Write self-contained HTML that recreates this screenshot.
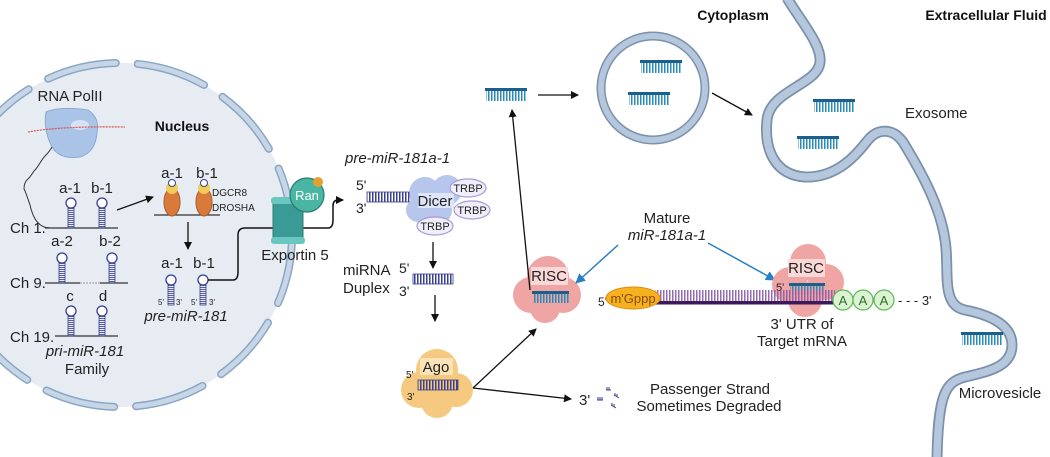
<!DOCTYPE html>
<html><head><meta charset="utf-8"><style>
html,body{margin:0;padding:0;background:#fff;}
svg{display:block;font-family:"Liberation Sans",sans-serif;}
</style></head><body>
<svg width="1050" height="457" viewBox="0 0 1050 457" xmlns="http://www.w3.org/2000/svg">
<defs>
<marker id="ah" markerWidth="8" markerHeight="8" refX="7" refY="4" orient="auto" markerUnits="userSpaceOnUse"><path d="M0,0 L8,4 L0,8 z" fill="#111"/></marker>
<marker id="ahb" markerWidth="10" markerHeight="10" refX="9" refY="5" orient="auto" markerUnits="userSpaceOnUse"><path d="M0,0 L10,5 L0,10 z" fill="#2a7fc8"/></marker>
<pattern id="teeth" width="3" height="10" patternUnits="userSpaceOnUse"><rect x="0" y="0" width="1.5" height="10" fill="#2a8bb8"/></pattern>
<pattern id="duplex" width="3" height="10" patternUnits="userSpaceOnUse"><rect x="0" y="0" width="1.5" height="10" fill="#3a3f8f"/></pattern>
<pattern id="stem" width="6" height="2" patternUnits="userSpaceOnUse"><rect x="0" y="0" width="6" height="1" fill="#5a5f9f"/></pattern>
<pattern id="mteeth" width="3" height="12" patternUnits="userSpaceOnUse"><rect x="0" y="0" width="1.5" height="12" fill="#8a5ca8"/></pattern>
<g id="strand"><rect x="0" y="0" width="42" height="3" fill="#1c5f8a"/><rect x="1" y="3" width="41" height="10" fill="url(#teeth)"/></g>
<g id="hp"><circle cx="0" cy="-25" r="5" fill="#fff" stroke="#3a3f8f" stroke-width="1.3"/><rect x="-3" y="-20" width="6" height="20" fill="url(#stem)" stroke="#3a3f8f" stroke-width="0.8"/></g>
</defs>

<!-- Nucleus -->
<circle cx="120" cy="235" r="172" fill="#e6ecf2"/>
<circle cx="120" cy="235" r="172" fill="none" stroke="#8aa6c4" stroke-width="8" stroke-dasharray="70 22" stroke-linecap="round"/>
<circle cx="120" cy="235" r="172" fill="none" stroke="#c7d6e7" stroke-width="5" stroke-dasharray="70 22" stroke-linecap="round"/>

<!-- RNA PolII -->
<text x="70" y="101" font-size="15" text-anchor="middle" fill="#222">RNA PolII</text>
<path d="M46,112 Q60,106 88,110 Q100,118 97,132 Q96,152 80,157 Q60,160 52,147 Q43,130 46,112z" fill="#a9c4e6" stroke="#8aaad4"/>
<ellipse cx="80" cy="125" rx="9" ry="5" fill="#d4e2f4"/>
<path d="M28,132 Q60,126 125,127" fill="none" stroke="#d9534f" stroke-width="1.2" stroke-dasharray="2 1"/>
<path d="M52,147 q-3,5 -6,8 q-3,3 -6,8 q-3,5 -6,8 q-3,5 -6,8 q-4,3 -4,10 Q25,190 30,205 Q35,228 50,228" fill="none" stroke="#333" stroke-width="1"/>
<text x="182" y="131" font-size="14" font-weight="bold" text-anchor="middle" fill="#111">Nucleus</text>

<!-- Chromosomes -->
<g font-size="15" fill="#222">
<text x="10" y="233">Ch 1.</text>
<text x="10" y="288">Ch 9.</text>
<text x="10" y="342">Ch 19.</text>
<text x="70" y="193" text-anchor="middle">a-1</text><text x="102" y="193" text-anchor="middle">b-1</text>
<text x="62" y="246" text-anchor="middle">a-2</text><text x="110" y="246" text-anchor="middle">b-2</text>
<text x="70" y="301" text-anchor="middle">c</text><text x="103" y="301" text-anchor="middle">d</text>
<text x="85" y="356" text-anchor="middle" font-style="italic">pri-miR-181</text>
<text x="87" y="374" text-anchor="middle">Family</text>
</g>
<path d="M45,228 H118 M45,283 H80 M100,283 H128 M55,336 H118" stroke="#333" stroke-width="1.2"/>
<path d="M80,283 H100" stroke="#999" stroke-width="1" stroke-dasharray="2 1"/>
<use href="#hp" x="71" y="228"/><use href="#hp" x="102" y="228"/>
<use href="#hp" x="62" y="283"/><use href="#hp" x="112" y="283"/>
<use href="#hp" x="71" y="336"/><use href="#hp" x="102" y="336"/>
<line x1="117" y1="210" x2="153" y2="197" stroke="#111" stroke-width="1.3" marker-end="url(#ah)"/>

<!-- Drosha -->
<g font-size="15" fill="#222"><text x="172" y="178" text-anchor="middle">a-1</text><text x="207" y="178" text-anchor="middle">b-1</text></g>
<line x1="154" y1="215" x2="220" y2="215" stroke="#333" stroke-width="1.2"/>
<g>
<ellipse cx="172" cy="202" rx="8" ry="14" fill="#d9793a" stroke="#a85a28"/><ellipse cx="172" cy="188" rx="6" ry="6" fill="#f0cc5a"/><circle cx="172" cy="183" r="3.5" fill="#fff" stroke="#3a3f8f"/>
<ellipse cx="204" cy="202" rx="8" ry="14" fill="#d9793a" stroke="#a85a28"/><ellipse cx="204" cy="188" rx="6" ry="6" fill="#f0cc5a"/><circle cx="204" cy="183" r="3.5" fill="#fff" stroke="#3a3f8f"/>
</g>
<text x="212" y="196" font-size="10" fill="#222">DGCR8</text>
<text x="212" y="211" font-size="10" fill="#222">DROSHA</text>
<line x1="188" y1="222" x2="188" y2="249" stroke="#111" stroke-width="1.3" marker-end="url(#ah)"/>
<g font-size="15" fill="#222"><text x="172" y="268" text-anchor="middle">a-1</text><text x="204" y="268" text-anchor="middle">b-1</text></g>
<use href="#hp" x="171" y="305"/><use href="#hp" x="203" y="305"/>
<g font-size="8" fill="#222"><text x="158" y="305">5'</text><text x="176" y="305">3'</text><text x="191" y="305">5'</text><text x="209" y="305">3'</text></g>
<text x="186" y="321" font-size="15" font-style="italic" text-anchor="middle" fill="#222">pre-miR-181</text>

<!-- Exportin -->
<path d="M208,280 H233 Q238,280 238,272 V235 Q238,228 245,228 H328 Q333,228 333,220 V206 Q333,200 338,200 H343" fill="none" stroke="#111" stroke-width="1.5" marker-end="url(#ah)"/>
<rect x="273" y="200" width="30" height="42" fill="#3a9a95" stroke="#2a7a75"/>
<rect x="271" y="197" width="34" height="7" rx="3" fill="#6ac7c0"/>
<rect x="271" y="237" width="34" height="7" rx="3" fill="#6ac7c0"/>
<circle cx="307" cy="195" r="17" fill="#4bb5a3" stroke="#2a7a70" stroke-width="1.2"/>
<circle cx="318" cy="182" r="5" fill="#e5a030"/>
<text x="307" y="200" font-size="13" fill="#fff" text-anchor="middle">Ran</text>
<text x="295" y="260" font-size="15" fill="#222" text-anchor="middle">Exportin 5</text>

<!-- Dicer -->
<text x="345" y="163" font-size="15" font-style="italic" fill="#222">pre-miR-181a-1</text>
<text x="356" y="190" font-size="14" fill="#222">5'</text>
<text x="356" y="213" font-size="14" fill="#222">3'</text>
<g fill="#b6c6ec"><circle cx="425" cy="193" r="16"/><circle cx="447" cy="190" r="15"/><circle cx="437" cy="210" r="15"/><circle cx="418" cy="210" r="12"/></g>
<rect x="367" y="192" width="42" height="10" fill="url(#duplex)" stroke="#3a3f8f" stroke-width="0.8"/>
<rect x="418" y="193" width="36" height="15" fill="#dde5f6"/>
<text x="435" y="206" font-size="15" fill="#222" text-anchor="middle">Dicer</text>
<g fill="#f0eefa" stroke="#a99ad4" stroke-width="1.2">
<ellipse cx="468" cy="188" rx="18" ry="9"/><ellipse cx="472" cy="210" rx="18" ry="9"/><ellipse cx="435" cy="226" rx="18" ry="9"/></g>
<g font-size="11" fill="#222" text-anchor="middle"><text x="468" y="192">TRBP</text><text x="472" y="214">TRBP</text><text x="435" y="230">TRBP</text></g>
<line x1="433" y1="242" x2="433" y2="268" stroke="#111" stroke-width="1.3" marker-end="url(#ah)"/>
<text x="343" y="275" font-size="15" fill="#222">miRNA</text><text x="343" y="293" font-size="15" fill="#222">Duplex</text>
<text x="399" y="273" font-size="14" fill="#222">5'</text><text x="399" y="296" font-size="14" fill="#222">3'</text>
<rect x="413" y="274" width="40" height="10" fill="url(#duplex)" stroke="#3a3f8f" stroke-width="0.8"/>
<line x1="435" y1="295" x2="435" y2="321" stroke="#111" stroke-width="1.3" marker-end="url(#ah)"/>

<!-- Ago -->
<g fill="#f5c97f"><circle cx="437" cy="370" r="21"/><circle cx="419" cy="390" r="18"/><circle cx="456" cy="390" r="17"/><circle cx="437" cy="402" r="16"/></g>
<rect x="420" y="358" width="33" height="17" fill="#fbe3b8"/>
<text x="436" y="372" font-size="15" fill="#222" text-anchor="middle">Ago</text>
<text x="406" y="378" font-size="10" fill="#222">5'</text><text x="407" y="400" font-size="10" fill="#222">3'</text>
<rect x="418" y="380" width="40" height="10" fill="url(#duplex)" stroke="#3a3f8f" stroke-width="0.8"/>
<line x1="473" y1="388" x2="536" y2="329" stroke="#111" stroke-width="1.3" marker-end="url(#ah)"/>
<line x1="473" y1="388" x2="571" y2="399" stroke="#111" stroke-width="1.3" marker-end="url(#ah)"/>
<text x="579" y="405" font-size="15" fill="#222">3'</text>
<g stroke="#3a3f8f" stroke-width="1"><path d="M597,400 h6 M598,397 v3 M600,397 v3 M602,397 v3 M606,390 h5 M607,387 v3 M609,387 v3 M614,395 l5,3 M615,393 l0,3 M617,394 l0,3 M611,405 l5,3 M612,403 v3 M614,404 v3"/></g>
<text x="710" y="394" font-size="15" fill="#222" text-anchor="middle">Passenger Strand</text>
<text x="709" y="411" font-size="15" fill="#222" text-anchor="middle">Sometimes Degraded</text>

<!-- RISC left -->
<g fill="#f0a5a5"><circle cx="548" cy="277" r="21"/><circle cx="531" cy="295" r="18"/><circle cx="563" cy="295" r="18"/><circle cx="545" cy="308" r="15"/></g>
<rect x="531" y="267" width="37" height="18" fill="#fbd8d8"/>
<text x="549" y="281" font-size="15" fill="#222" text-anchor="middle">RISC</text>
<rect x="532" y="291" width="37" height="3" fill="#1c5f8a"/><rect x="533" y="294" width="36" height="9" fill="url(#teeth)"/>
<line x1="530" y1="290" x2="512" y2="110" stroke="#111" stroke-width="1.3" marker-end="url(#ah)"/>
<use href="#strand" x="485" y="88"/>
<line x1="538" y1="95" x2="578" y2="95" stroke="#111" stroke-width="1.3" marker-end="url(#ah)"/>

<!-- vesicle -->
<circle cx="653" cy="88" r="52" fill="none" stroke="#7a90ab" stroke-width="9"/>
<circle cx="653" cy="88" r="52" fill="none" stroke="#b5c7dd" stroke-width="6"/>
<use href="#strand" x="640" y="60"/><use href="#strand" x="628" y="92"/>
<line x1="712" y1="93" x2="752" y2="115" stroke="#111" stroke-width="1.3" marker-end="url(#ah)"/>

<!-- membrane -->
<path d="M787,-2 C800,20 822,45 820,62 C818,85 770,90 767,120 C764,150 775,175 805,177 C840,178 860,150 868,140 C878,128 893,128 903,142 C920,170 940,205 945,240 C950,270 940,305 965,310 C990,315 1012,325 1012,345 C1012,368 985,372 965,377 C945,382 938,395 937,460" fill="none" stroke="#7a90ab" stroke-width="11"/>
<path d="M787,-2 C800,20 822,45 820,62 C818,85 770,90 767,120 C764,150 775,175 805,177 C840,178 860,150 868,140 C878,128 893,128 903,142 C920,170 940,205 945,240 C950,270 940,305 965,310 C990,315 1012,325 1012,345 C1012,368 985,372 965,377 C945,382 938,395 937,460" fill="none" stroke="#b5c7dd" stroke-width="7.5"/>
<use href="#strand" x="813" y="99"/><use href="#strand" x="797" y="136"/>
<use href="#strand" x="961" y="332"/>
<text x="905" y="118" font-size="15" fill="#222">Exosome</text>
<text x="1000" y="398" font-size="15" fill="#222" text-anchor="middle">Microvesicle</text>
<text x="733" y="20" font-size="14" font-weight="bold" fill="#111" text-anchor="middle">Cytoplasm</text>
<text x="986" y="20" font-size="14" font-weight="bold" fill="#111" text-anchor="middle">Extracellular Fluid</text>

<!-- Mature -->
<text x="667" y="223" font-size="15" fill="#222" text-anchor="middle">Mature</text>
<text x="667" y="240" font-size="15" font-style="italic" fill="#222" text-anchor="middle">miR-181a-1</text>
<line x1="618" y1="245" x2="576" y2="283" stroke="#2a7fc8" stroke-width="1.5" marker-end="url(#ahb)"/>
<line x1="708" y1="243" x2="775" y2="280" stroke="#2a7fc8" stroke-width="1.5" marker-end="url(#ahb)"/>

<!-- mRNA -->
<g fill="#f0a5a5"><circle cx="808" cy="262" r="18"/><circle cx="790" cy="285" r="18"/><circle cx="826" cy="282" r="18"/><circle cx="805" cy="300" r="17"/></g>
<rect x="788" y="259" width="37" height="18" fill="#fbd8d8"/>
<text x="806" y="273" font-size="15" fill="#222" text-anchor="middle">RISC</text>
<text x="776" y="291" font-size="11" fill="#222">5'</text>
<rect x="789" y="283" width="36" height="3" fill="#1c5f8a"/><rect x="790" y="286" width="35" height="9" fill="url(#teeth)"/>
<rect x="655" y="290" width="180" height="11" fill="url(#mteeth)" opacity="0.9"/>
<rect x="655" y="301" width="180" height="3.5" fill="#3c1a5a"/>
<text x="598" y="306" font-size="12" fill="#222">5'</text>
<ellipse cx="633" cy="298" rx="27" ry="11" fill="#f5b21e" stroke="#e08a10"/>
<text x="633" y="303" font-size="13" fill="#8a4a10" text-anchor="middle">m'Gppp</text>
<g fill="#dcf2d0" stroke="#5cb85c" stroke-width="1.2"><circle cx="843" cy="300" r="10"/><circle cx="863" cy="300" r="10"/><circle cx="884" cy="300" r="10"/></g>
<g font-size="13" fill="#2e6e2e" text-anchor="middle"><text x="843" y="305">A</text><text x="863" y="305">A</text><text x="884" y="305">A</text></g>
<text x="898" y="305" font-size="13" fill="#222">- - - 3'</text>
<text x="802" y="329" font-size="15" fill="#222" text-anchor="middle">3' UTR of</text>
<text x="802" y="346" font-size="15" fill="#222" text-anchor="middle">Target mRNA</text>
</svg>
</body></html>
